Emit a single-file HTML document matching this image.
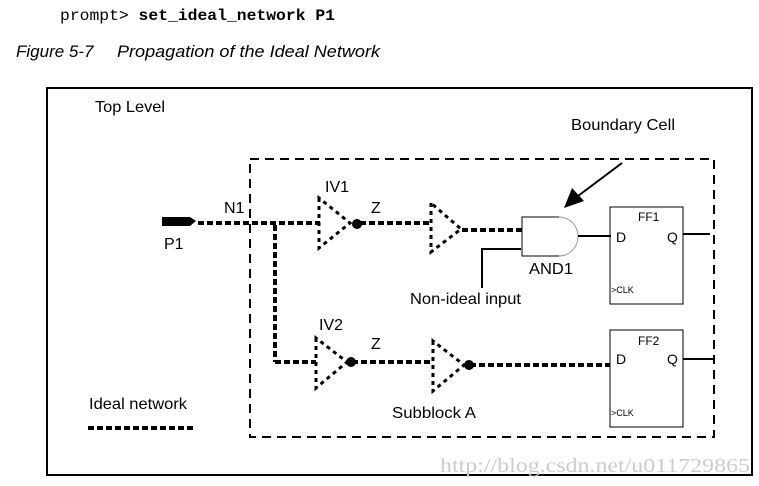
<!DOCTYPE html>
<html><head><meta charset="utf-8"><style>
html,body{margin:0;padding:0;background:#fff;width:759px;height:486px;overflow:hidden}
svg{display:block}
text{font-family:"Liberation Sans",sans-serif;font-size:16px;fill:#000}
</style></head><body>
<svg width="759" height="486" viewBox="0 0 759 486">
<text x="60" y="20" style="font-family:'Liberation Mono',monospace;font-size:16px" textLength="275" lengthAdjust="spacingAndGlyphs">prompt&gt; <tspan font-weight="bold">set_ideal_network P1</tspan></text>
<text x="16" y="57" style="font-style:italic;font-size:17px">Figure 5-7</text>
<text x="117" y="57" style="font-style:italic;font-size:17px" textLength="263" lengthAdjust="spacingAndGlyphs">Propagation of the Ideal Network</text>
<rect x="47" y="88" width="705" height="387" fill="none" stroke="#000" stroke-width="2"/>
<rect x="250" y="159" width="464" height="278" fill="none" stroke="#000" stroke-width="2" stroke-dasharray="9,6"/>
<text x="95" y="112" textLength="70" lengthAdjust="spacingAndGlyphs">Top Level</text>
<text x="571" y="130" textLength="104" lengthAdjust="spacingAndGlyphs">Boundary Cell</text>
<line x1="622" y1="163" x2="578" y2="196" stroke="#000" stroke-width="2"/>
<polygon points="564,208 572,188 584,201" fill="#000"/>
<polygon points="162,217 190,217 196,221 190,226 162,226" fill="#000"/>
<text x="164" y="249">P1</text>
<text x="224" y="213">N1</text>
<g stroke="#000" stroke-width="4" stroke-dasharray="6,3" fill="none">
<line x1="198" y1="223" x2="320" y2="223"/>
<line x1="275" y1="225" x2="275" y2="362"/>
<line x1="275" y1="362" x2="316" y2="362"/>
<line x1="360" y1="223" x2="432" y2="223"/>
<line x1="462" y1="230" x2="525" y2="230"/>
<line x1="352" y1="362" x2="432" y2="362"/>
<line x1="470" y1="365" x2="610" y2="365"/>
<line x1="88" y1="428" x2="195" y2="428"/>
</g>
<g stroke="#000" stroke-width="3" stroke-dasharray="4,4" fill="none">
<polygon points="319,198 319,248 350,223"/>
<polygon points="431,203 431,252 461,229"/>
<polygon points="316,338 316,388 347,362"/>
<polygon points="433,341 433,391 464,365"/>
</g>
<circle cx="357" cy="224" r="5"/>
<circle cx="351" cy="362" r="5"/>
<circle cx="469" cy="365" r="5"/>
<text x="325" y="192">IV1</text>
<text x="371" y="213">Z</text>
<text x="319" y="330">IV2</text>
<text x="371" y="349">Z</text>
<path d="M559,217 H522 V256 H559" fill="none" stroke="#000" stroke-width="1"/>
<path d="M559,217 A19,19.5 0 0 1 559,256" fill="none" stroke="#999" stroke-width="1"/>
<text x="529" y="274" textLength="44" lengthAdjust="spacingAndGlyphs">AND1</text>
<polyline points="521,249 482,249 482,288" fill="none" stroke="#000" stroke-width="2"/>
<text x="410" y="304" textLength="111" lengthAdjust="spacingAndGlyphs">Non-ideal input</text>
<line x1="578" y1="236" x2="611" y2="236" stroke="#000" stroke-width="2"/>
<rect x="610" y="207" width="73" height="97" fill="none" stroke="#000" stroke-width="1"/>
<text x="638" y="221" style="font-size:12px">FF1</text>
<text x="616" y="242" style="font-size:14px">D</text>
<text x="667" y="242" style="font-size:14px">Q</text>
<text x="611" y="293" style="font-size:9px">&gt;CLK</text>
<line x1="683" y1="234" x2="710" y2="234" stroke="#000" stroke-width="2"/>
<rect x="610" y="330" width="73" height="97" fill="none" stroke="#000" stroke-width="1"/>
<text x="638" y="345" style="font-size:12px">FF2</text>
<text x="616" y="364" style="font-size:14px">D</text>
<text x="667" y="364" style="font-size:14px">Q</text>
<text x="611" y="416" style="font-size:9px">&gt;CLK</text>
<line x1="683" y1="359" x2="713" y2="359" stroke="#000" stroke-width="2"/>
<text x="89" y="409" textLength="98" lengthAdjust="spacingAndGlyphs">Ideal network</text>
<text x="392" y="418" textLength="84" lengthAdjust="spacingAndGlyphs">Subblock A</text>
<text x="440" y="472" style="font-family:'Liberation Serif',serif;font-size:20px;fill:#ccc" textLength="310" lengthAdjust="spacingAndGlyphs">http://blog.csdn.net/u011729865</text>
</svg>
</body></html>
